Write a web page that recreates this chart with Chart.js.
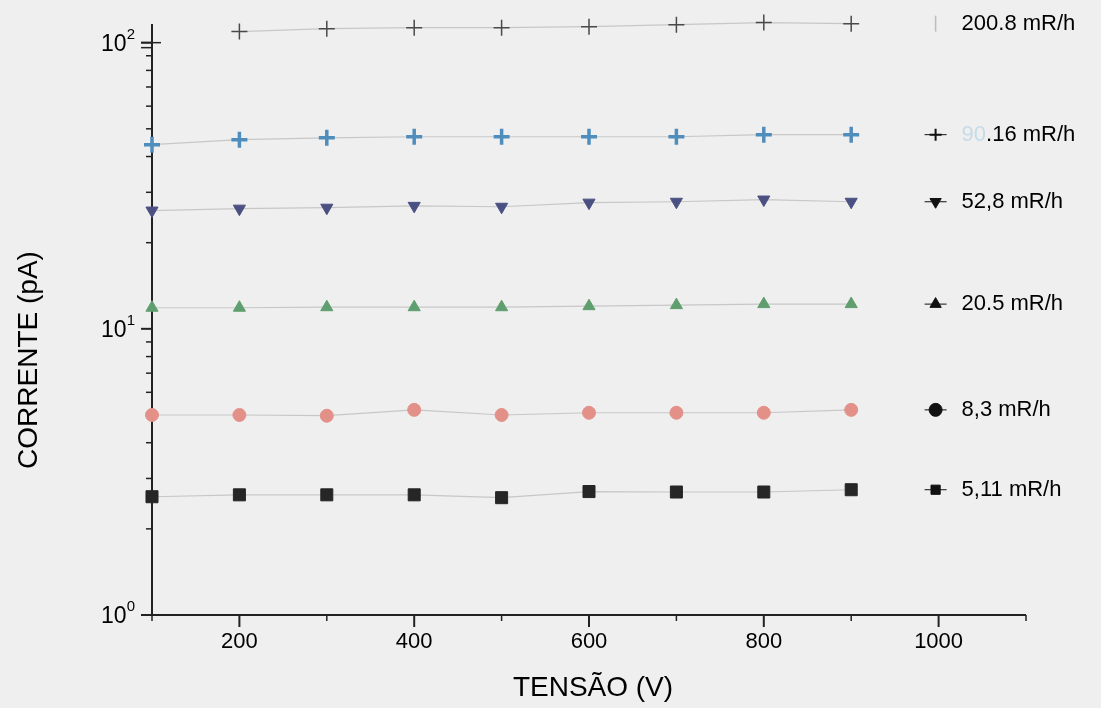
<!DOCTYPE html>
<html><head><meta charset="utf-8">
<script src="https://cdn.jsdelivr.net/npm/chart.js@4.4.1/dist/chart.umd.min.js"></script>
<style>html,body{margin:0;padding:0;background:#efefef;}canvas{display:block;}</style>
</head><body>
<canvas id="c" width="1101" height="708"></canvas>
<script>
// ---- data ----
const voltages = [100, 200, 300, 400, 500, 600, 700, 800, 900];
const seriesLabels = ['200.8 mR/h', '90.16 mR/h', '52,8 mR/h', '20.5 mR/h', '8,3 mR/h', '5,11 mR/h'];
const current200_8 = [null, 109.3, 111.9, 112.8, 112.8, 113.7, 115.6, 117.5, 116.5];
const current90_16 = [44.0, 45.8, 46.5, 46.9, 46.9, 46.9, 46.9, 47.7, 47.7];
const current52_8 = [25.9, 26.3, 26.5, 26.9, 26.7, 27.6, 27.8, 28.3, 27.8];
const current20_5 = [11.85, 11.85, 11.9, 11.9, 11.9, 12.0, 12.1, 12.2, 12.2];
const current8_3 = [5.0, 5.0, 4.97, 5.21, 5.0, 5.09, 5.09, 5.09, 5.21];
const current5_11 = [2.59, 2.63, 2.63, 2.63, 2.57, 2.70, 2.69, 2.69, 2.74];
const xMajorTicks = [200, 400, 600, 800, 1000];
const xMinorTicks = [100, 300, 500, 700, 900, 1100];
const yDecades = [0, 1, 2];
const xTitle = 'TENSÃO (V)';
const yTitle = 'CORRENTE (pA)';

const FONT = "'Liberation Sans', Arial, sans-serif";
const seriesValues = [current200_8, current90_16, current52_8, current20_5, current8_3, current5_11];
const styles = [
  {pointStyle: 'cross', radius: 8, rotation: 0, color: '#4a4a4a', bw: 1.5},
  {pointStyle: 'cross', radius: 8, rotation: 0, color: '#4f8dbd', bw: 3.5},
  {pointStyle: 'triangle', radius: 7, rotation: 180, color: '#4b5082', bw: 1},
  {pointStyle: 'triangle', radius: 7, rotation: 0, color: '#5f9e6e', bw: 1},
  {pointStyle: 'circle', radius: 6.5, rotation: 0, color: '#e39088', bw: 1},
  {pointStyle: 'rect', radius: 8.5, rotation: 0, color: '#262626', bw: 1}
];

const datasets = seriesValues.map((vals, i) => ({
  label: seriesLabels[i],
  data: voltages.map((v, j) => ({x: v, y: vals[j]})).filter(p => p.y !== null),
  borderColor: 'rgba(140,140,140,0.4)',
  borderWidth: 1.2,
  pointStyle: styles[i].pointStyle,
  pointRadius: styles[i].radius,
  pointRotation: styles[i].rotation,
  pointBackgroundColor: styles[i].color,
  pointBorderColor: styles[i].color,
  pointBorderWidth: styles[i].bw,
  fill: false,
  tension: 0,
  clip: false
}));

const axesPlugin = {
  id: 'axesPlugin',
  beforeDatasetsDraw(chart) {
    const {ctx, chartArea: ca, scales: {x, y}} = chart;
    ctx.save();
    ctx.strokeStyle = '#222';
    ctx.lineWidth = 2;
    ctx.beginPath();
    ctx.moveTo(ca.left, ca.top + 4);
    ctx.lineTo(ca.left, ca.bottom);
    ctx.lineTo(ca.right, ca.bottom);
    ctx.stroke();
    // x ticks
    ctx.lineWidth = 2;
    xMajorTicks.forEach(v => {
      const px = x.getPixelForValue(v);
      ctx.beginPath(); ctx.moveTo(px, ca.bottom); ctx.lineTo(px, ca.bottom + 12); ctx.stroke();
    });
    ctx.lineWidth = 1.5;
    xMinorTicks.forEach(v => {
      const px = x.getPixelForValue(v);
      ctx.beginPath(); ctx.moveTo(px, ca.bottom); ctx.lineTo(px, ca.bottom + 6); ctx.stroke();
    });
    // y ticks
    yDecades.forEach(e => {
      const py = y.getPixelForValue(Math.pow(10, e));
      ctx.lineWidth = 2;
      ctx.beginPath(); ctx.moveTo(ca.left - 11, py); ctx.lineTo(ca.left, py); ctx.stroke();
      if (e < 2) {
        ctx.lineWidth = 1.5;
        for (let m = 2; m <= 9; m++) {
          const pm = y.getPixelForValue(m * Math.pow(10, e));
          ctx.beginPath(); ctx.moveTo(ca.left - 6, pm); ctx.lineTo(ca.left, pm); ctx.stroke();
        }
      }
    });
    // axis break mark near top
    const p2 = y.getPixelForValue(100);
    ctx.lineWidth = 1.5;
    ctx.beginPath(); ctx.moveTo(ca.left - 11, p2); ctx.lineTo(ca.left + 9, p2); ctx.stroke();
    ctx.beginPath(); ctx.moveTo(ca.left - 11, p2 + 5); ctx.lineTo(ca.left, p2 + 5); ctx.stroke();

    // tick labels
    ctx.fillStyle = '#000';
    ctx.font = '22px ' + FONT;
    ctx.textAlign = 'center';
    ctx.textBaseline = 'middle';
    xMajorTicks.forEach(v => {
      ctx.fillText(String(v), x.getPixelForValue(v), ca.bottom + 27);
    });
    yDecades.forEach(e => {
      const py = y.getPixelForValue(Math.pow(10, e));
      const right = ca.left - 17;
      ctx.textAlign = 'right';
      ctx.font = '15px ' + FONT;
      ctx.fillText(String(e), right, py - 8);
      const sw = ctx.measureText(String(e)).width;
      ctx.font = '23px ' + FONT;
      ctx.fillText('10', right - sw, py + 2);
    });
    // axis titles
    ctx.font = '28px ' + FONT;
    ctx.textAlign = 'center';
    ctx.fillText(xTitle, (ca.left + ca.right) / 2 + 4, ca.bottom + 73);
    ctx.save();
    ctx.translate(ca.left - 123, 360);
    ctx.rotate(-Math.PI / 2);
    ctx.fillText(yTitle, 0, 0);
    ctx.restore();
    ctx.restore();
  },
  afterDraw(chart) {
    const {ctx, scales: {x, y}} = chart;
    ctx.save();
    const x1000 = x.getPixelForValue(1000);
    const symX = x1000 - 3;
    const txtX = x1000 + 23;
    ctx.font = '22px ' + FONT;
    ctx.textBaseline = 'middle';
    ctx.textAlign = 'left';
    seriesValues.forEach((vals, i) => {
      const last = vals[vals.length - 1];
      const py = y.getPixelForValue(last);
      if (i === 0) {
        ctx.strokeStyle = '#bdbdbd'; ctx.lineWidth = 1.5;
        ctx.beginPath(); ctx.moveTo(symX, py - 8); ctx.lineTo(symX, py + 8); ctx.stroke();
      } else {
        ctx.strokeStyle = '#111'; ctx.lineWidth = 1;
        ctx.beginPath(); ctx.moveTo(symX - 11, py); ctx.lineTo(symX + 11, py); ctx.stroke();
        ctx.fillStyle = '#111'; ctx.strokeStyle = '#111';
        ctx.lineWidth = i === 1 ? 2 : 1;
        Chart.helpers.drawPoint(ctx, {
          pointStyle: styles[i].pointStyle,
          radius: i === 1 ? 6 : 6.5,
          rotation: styles[i].rotation,
          borderWidth: ctx.lineWidth
        }, symX, py);
      }
      ctx.fillStyle = '#000';
      if (i === 1) {
        const faint = seriesLabels[i].slice(0, 2);
        const rest = seriesLabels[i].slice(2);
        ctx.fillStyle = '#c6dbe8';
        ctx.fillText(faint, txtX, py);
        const w = ctx.measureText(faint).width;
        ctx.fillStyle = '#000';
        ctx.fillText(rest, txtX + w, py);
      } else {
        ctx.fillText(seriesLabels[i], txtX, py);
      }
    });
    ctx.restore();
  }
};

new Chart(document.getElementById('c'), {
  type: 'line',
  data: {datasets},
  options: {
    responsive: false,
    animation: false,
    devicePixelRatio: 1,
    layout: {padding: {left: 152, right: 75, top: 20, bottom: 93}},
    plugins: {legend: {display: false}, tooltip: {enabled: false}},
    scales: {
      x: {type: 'linear', min: 100, max: 1100, display: false},
      y: {type: 'logarithmic', min: 1, max: 120, display: false}
    }
  },
  plugins: [axesPlugin]
});
</script>
</body></html>
